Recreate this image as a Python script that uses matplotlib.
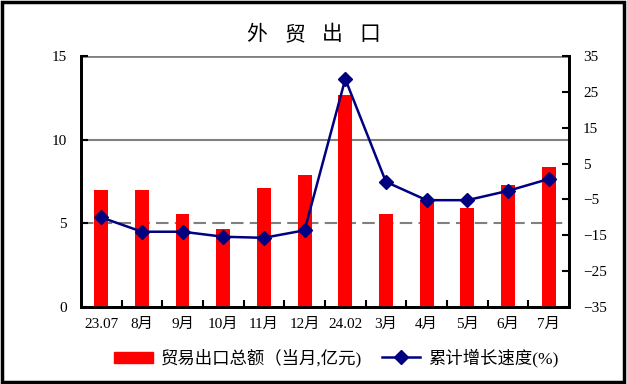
import matplotlib
matplotlib.use("Agg")
import matplotlib.pyplot as plt
from matplotlib.patches import Rectangle
from matplotlib.lines import Line2D
import numpy as np

categories = ["23.07", "8月", "9月", "10月", "11月", "12月", "24.02", "3月", "4月", "5月", "6月", "7月"]
export_values = [7.0, 7.0, 5.58, 4.68, 7.14, 7.92, 12.65, 5.58, 6.42, 5.94, 7.32, 8.34]
growth_values = [-10.0, -14.0, -14.0, -15.4, -15.7, -13.6, 28.6, -0.1, -5.2, -5.2, -2.6, 0.7]
left_ticks = [0, 5, 10, 15]
right_ticks = [-35, -25, -15, -5, 5, 15, 25, 35]
title = "外贸出口"
bar_label = "贸易出口总额（当月,亿元)"
line_label = "累计增长速度(%)"

fam = ["Liberation Serif", "Noto Sans CJK SC"]
plt.rcParams['font.family'] = fam

fig = plt.figure(figsize=(6.27, 3.84), dpi=100)
ax = fig.add_axes([0.129, 0.2005, 0.7785, 0.6535])
ax2 = ax.twinx()

x = np.arange(len(categories))
ax.bar(x, export_values, width=0.34, color="#FF0000", zorder=3)
ax.set_xlim(-0.5, len(categories) - 0.5)
ax.set_ylim(0, 15)
ax.set_yticks(left_ticks)
ax.axhline(15, color="#808080", lw=2, zorder=1)
ax.axhline(10, color="#808080", lw=1.5, zorder=1)
ax.axhline(5, color="#808080", lw=1.5, ls=(0, (6, 3)), zorder=1)

ax2.plot(x, growth_values, color="#000080", lw=1.8, marker="D", markersize=7, zorder=4)
ax2.set_ylim(-35, 35)
ax2.set_yticks(right_ticks)

ax.set_xticks(x)
ax.set_xticklabels(categories)
ax.set_xticks(np.arange(0.5, len(categories) - 1, 1), minor=True)
ax.tick_params(axis='x', which='major', length=0, pad=8, labelsize=11)
ax.tick_params(axis='x', which='minor', direction='in', length=5, width=1.5)
ax.tick_params(axis='y', direction='in', length=5, width=1.5, labelsize=11, pad=10)
ax2.tick_params(axis='y', direction='in', length=5, width=1.5, labelsize=11, pad=10)

for a in (ax, ax2):
    a.spines['top'].set_visible(False)
    for s in ('left', 'right', 'bottom'):
        a.spines[s].set_linewidth(2)
        a.spines[s].set_color("black")

ax.set_zorder(0)
ax2.set_zorder(1)
ax2.patch.set_visible(False)

# title: characters spaced out like the reference
title_x = [257, 295, 332, 370]
for ch, px in zip(title, title_x):
    fig.text(px / 627, 0.9115, ch, ha="center", va="center", fontsize=15,
             family=["Noto Sans CJK SC", "Liberation Serif"])

handles = [Rectangle((0, 0), 1, 1, color="#FF0000"),
           Line2D([], [], color="#000080", lw=1.8, marker="D", markersize=7)]
leg = fig.legend(handles, [bar_label, line_label], loc="center", ncol=2,
                 bbox_to_anchor=(0.537, 0.068), frameon=False,
                 handlelength=2.2, handleheight=0.63, columnspacing=1.1, handletextpad=0.5,
                 prop={"family": fam, "size": 12.5})

fig.add_artist(Rectangle((0.003, 0.004), 0.992, 0.99, transform=fig.transFigure,
                         fill=False, edgecolor="black", lw=2.5))

fig.savefig("out.png", dpi=100)
